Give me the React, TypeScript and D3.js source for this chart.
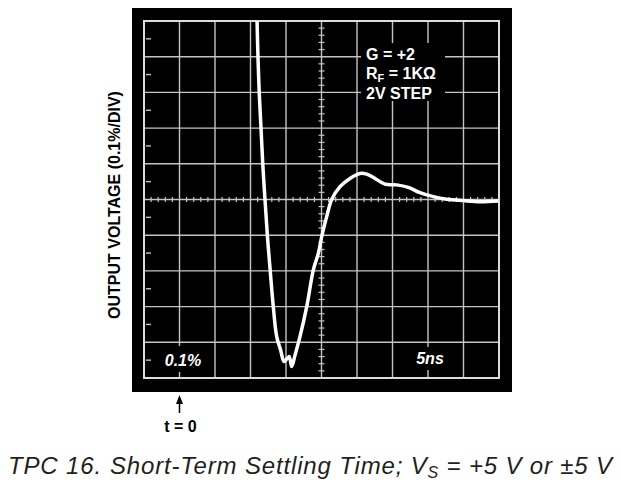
import React from "react";
import * as d3 from "d3";

// time in ns (5 ns/div), t = 0 at first grid line
const timeNs = [10.9, 11.06, 11.24, 11.48, 11.72, 12.04, 12.37, 12.75, 13.21, 13.69, 14.25, 14.72, 15.18, 15.46, 15.8, 16.27, 16.97, 17.92, 18.85, 19.55, 20.03, 20.73, 21.44, 22.61, 24.01, 25.42, 26.37, 27.54, 28.94, 30.59, 32.23, 33.87, 35.75, 37.63, 39.97, 42.32, 44.9];
// output voltage error in % (0.1 %/div)
const outputPct = [0.52, 0.394, 0.296, 0.2, 0.102, 0.0, -0.099, -0.193, -0.3, -0.384, -0.422, -0.454, -0.445, -0.44, -0.468, -0.436, -0.384, -0.3, -0.197, -0.151, -0.104, -0.048, 0.0, 0.036, 0.059, 0.073, 0.071, 0.059, 0.043, 0.041, 0.034, 0.019, 0.008, 0.001, -0.003, -0.006, -0.004];

const xGrid = d3.range(-5, 45.01, 5);
const yGrid = d3.range(-0.5, 0.501, 0.1);
const labelLines = ["G = +2", "RF", "2V STEP"];

export default function App() {
  const W = 621, H = 486;
  const x = d3.scaleLinear().domain([-5, 45]).range([144, 499]);
  const y = d3.scaleLinear().domain([-0.5, 0.5]).range([378, 21]);
  const pts = timeNs.map((t, i) => [x(t), y(outputPct[i])] as [number, number]);
  const line = d3.line().curve(d3.curveCatmullRom.alpha(0.5))(pts) || "";
  const minorX = d3.range(-5, 45.01, 1).filter((v) => Math.abs(v % 5) > 1e-6);
  const minorY = d3.range(-0.5, 0.501, 0.02).filter((v) => Math.abs((Math.round(v * 1000) / 1000) % 0.1) > 1e-6);
  const midRows = d3.range(-0.45, 0.46, 0.1);
  const gridCol = "#c4c4c4";
  const bold = "Liberation Sans, Arial, Helvetica, sans-serif";
  return (
    <svg width={W} height={H} style={{ position: "absolute", left: 0, top: 0, background: "#fff" }}>
      <defs>
        <clipPath id="plotClip">
          <rect x={144} y={21} width={355} height={357} />
        </clipPath>
      </defs>
      <rect x={132} y={8} width={380} height={384} fill="#000" />
      {xGrid.map((v) => (
        <line key={"gx" + v} x1={x(v)} x2={x(v)} y1={y(0.5)} y2={y(-0.5)} stroke={gridCol} strokeWidth={1.4} />
      ))}
      {yGrid.map((v) => (
        <line key={"gy" + v} x1={x(-5)} x2={x(45)} y1={y(v)} y2={y(v)} stroke={gridCol} strokeWidth={1.4} />
      ))}
      {minorX.map((v) => (
        <line key={"mx" + v} x1={x(v)} x2={x(v)} y1={y(0) - 2.5} y2={y(0) + 2.5} stroke={gridCol} strokeWidth={1.2} />
      ))}
      {minorY.map((v) => (
        <line key={"my" + v} x1={x(20) - 3} x2={x(20) + 3} y1={y(v)} y2={y(v)} stroke={gridCol} strokeWidth={1.2} />
      ))}
      {midRows.map((v) => (
        <line key={"lr" + v} x1={x(-5) + 2} x2={x(-5) + 7} y1={y(v)} y2={y(v)} stroke={gridCol} strokeWidth={1.4} />
      ))}
      <rect x={144} y={21} width={355} height={357} fill="none" stroke="#dcdcdc" strokeWidth={2} />
      {/* label backgrounds */}
      <rect x={361} y={43} width={84} height={58} fill="#000" />
      <rect x={160} y={346} width={46} height={26} fill="#000" />
      <rect x={412} y={347} width={38} height={23} fill="#000" />
      <path d={line} fill="none" stroke="#fff" strokeWidth={3.5} strokeLinejoin="round" clipPath="url(#plotClip)" />
      <g fontFamily={bold} fontWeight="bold" fill="#fff" fontSize={16}>
        <text x={366} y={60}>{labelLines[0]}</text>
        <text x={366} y={79}>
          R<tspan fontSize={11} dy={3}>F</tspan>
          <tspan dy={-3}> = 1KΩ</tspan>
        </text>
        <text x={366} y={99}>{labelLines[2]}</text>
      </g>
      <text x={183} y={366} textAnchor="middle" fontFamily={bold} fontWeight="bold" fontStyle="italic" fontSize={16} fill="#fff">0.1%</text>
      <text x={430} y={364} textAnchor="middle" fontFamily={bold} fontWeight="bold" fontStyle="italic" fontSize={16} fill="#fff">5ns</text>
      <text transform="translate(120,205) rotate(-90)" textAnchor="middle" fontFamily={bold} fontWeight="bold" fontSize={16} fill="#000">OUTPUT VOLTAGE (0.1%/DIV)</text>
      <line x1={x(0)} x2={x(0)} y1={401} y2={413} stroke="#000" strokeWidth={1.5} />
      <path d={`M${x(0)},395 L${x(0) - 3.5},404 L${x(0) + 3.5},404 Z`} fill="#000" />
      <text x={x(0) + 1} y={432} textAnchor="middle" fontFamily={bold} fontWeight="bold" fontSize={16} fill="#000">t = 0</text>
      <text x={8} y={474} fontFamily={bold} fontStyle="italic" fontSize={24} fill="#231f20" textLength={604} lengthAdjust="spacing">
        TPC 16.<tspan dx={8}>Short-Term Settling Time; V</tspan>
        <tspan fontSize={16} dy={4}>S</tspan>
        <tspan dy={-4}> = +5 V or ±5 V</tspan>
      </text>
    </svg>
  );
}
